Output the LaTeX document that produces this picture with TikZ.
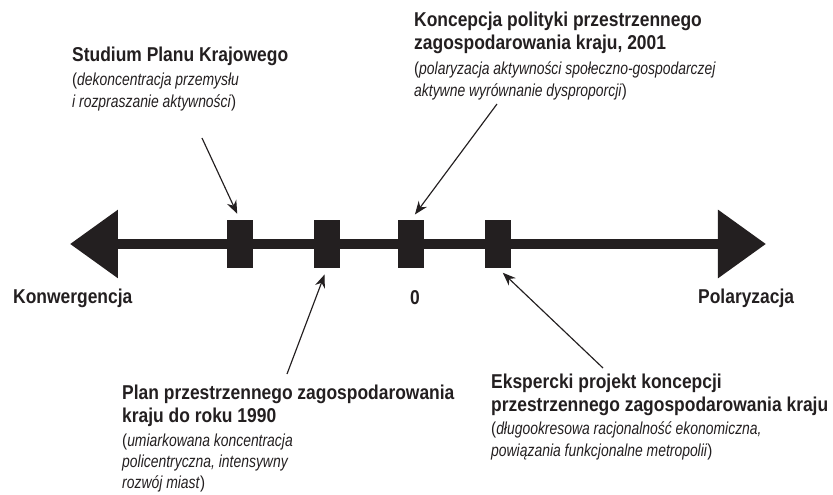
\documentclass[tikz,border=0pt]{standalone}
\usepackage{fontspec}
\setmainfont{Liberation Sans}[FakeStretch=0.87, ItalicFeatures={FakeStretch=0.8}]
\usepackage{tikz}
\usetikzlibrary{arrows.meta,positioning}
\definecolor{ink}{RGB}{35,31,32}
\newcommand{\itsz}{\fontsize{16.5}{20}\selectfont}

\begin{document}
\begin{tikzpicture}[
  sq/.style={fill=ink, draw=none, minimum width=0.867cm, minimum height=1.6cm, inner sep=0pt},
  txt/.style={anchor=north west, align=left, inner sep=0pt, text=ink, font=\fontsize{19}{22}\selectfont},
  lbl/.style={anchor=west, inner sep=0pt, text=ink, font=\fontsize{19}{21}\selectfont\bfseries},
  axis/.style={ink, line width=0.333cm, {Triangle[length=1.6cm,width=2.2cm]}-{Triangle[length=1.6cm,width=2.2cm]}},
  ptr/.style={ink, line width=1.1pt, -{Stealth[length=0.44cm,width=0.34cm]}, shorten >=0.22cm}
]
\useasboundingbox (0,0) rectangle (27.767,16.5);

% axis
\coordinate (lt) at (2.333,8.367);
\coordinate (rt) at (25.533,8.367);
\draw[axis] (lt) -- (rt);
\foreach \x [count=\i] in {8.0,10.9,13.7,16.6}
{
\node[sq] (s\i) at (\x,8.367) {};
}

\node[lbl] (kon) at (0.433,6.567) {Konwergencja};
\node[lbl, anchor=center] (zero) at (13.833,6.567) {0};
\node[lbl] (pol) at (23.267,6.567) {Polaryzacja};

% descriptions
\node[txt] (t1) at (2.4,14.93) {\textbf{Studium Planu Krajowego}\\
{\itsz(\textit{dekoncentracja przemysłu}}\\[-1pt]
{\itsz\textit{i rozpraszanie aktywności})}};
\node[txt] (t2) at (13.8,16.1) {\textbf{Koncepcja polityki przestrzennego}\\
\textbf{zagospodarowania kraju, 2001}\\[1pt]
{\itsz(\textit{polaryzacja aktywności społeczno-gospodarczej}}\\[-1pt]
{\itsz\textit{aktywne wyrównanie dysproporcji})}};
\node[txt] (t3) at (4.067,3.68) {\textbf{Plan przestrzennego zagospodarowania}\\
\textbf{kraju do roku 1990}\\[1pt]
{\itsz(\textit{umiarkowana koncentracja}}\\[-2pt]
{\itsz\textit{policentryczna, intensywny}}\\[-2pt]
{\itsz\textit{rozwój miast})}};
\node[txt] (t4) at (16.367,4.05) {\textbf{Ekspercki projekt koncepcji}\\
\textbf{przestrzennego zagospodarowania kraju}\\
{\itsz(\textit{długookresowa racjonalność ekonomiczna,}}\\[-1pt]
{\itsz\textit{powiązania funkcjonalne metropolii})}};

% pointers
\coordinate (a1) at (6.733,11.9);
\coordinate (a2) at (16.567,13.033);
\coordinate (a3) at (9.567,4.033);
\coordinate (a4) at (20.1,4.233);
\draw[ptr] (a1) -- (s1.north);
\draw[ptr] (a2) -- (s3.north);
\draw[ptr] (a3) -- (s2.south);
\draw[ptr] (a4) -- (s4.south);
\end{tikzpicture}
\end{document}
